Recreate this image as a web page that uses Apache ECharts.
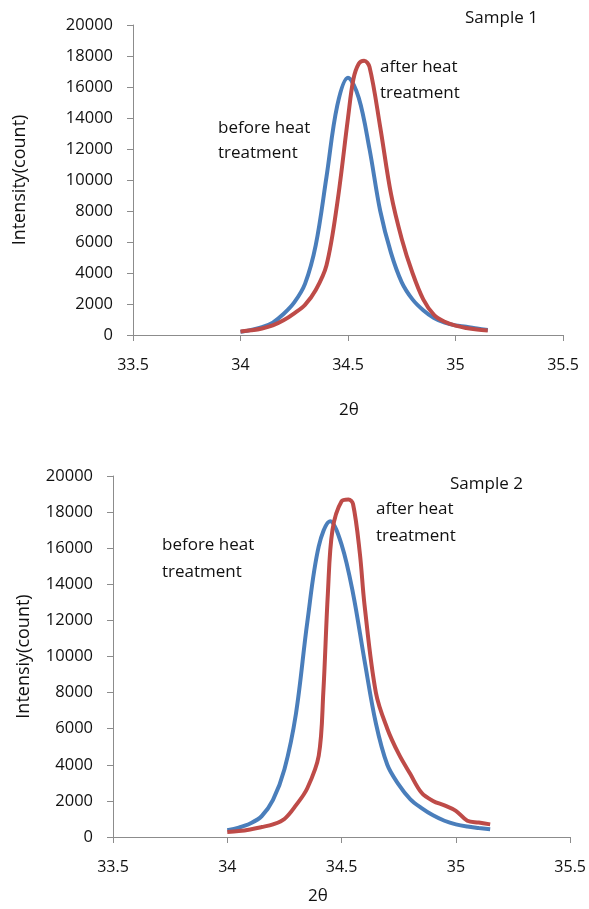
<!DOCTYPE html>
<html>
<head>
<meta charset="utf-8">
<script src="https://cdn.jsdelivr.net/npm/echarts@6/dist/echarts.min.js"></script>
<style>
    html, body { margin: 0; padding: 0; background: #fff; }
    #chart { width: 589px; height: 909px; }
</style>
</head>
<body>
<div id="chart"></div>
<script>
// Sample 1
const s1BeforeX = [34.00, 34.05, 34.10, 34.15, 34.20, 34.25, 34.30, 34.35, 34.40, 34.45, 34.50, 34.55, 34.60, 34.65, 34.70, 34.75, 34.80, 34.85, 34.90, 34.95, 35.00, 35.05, 35.10, 35.15];
const s1Before = [200, 330, 500, 800, 1350, 2100, 3300, 5800, 10200, 14800, 16600, 15300, 12000, 8000, 5300, 3400, 2300, 1600, 1100, 800, 620, 540, 420, 320];
const s1AfterX = [34.00, 34.05, 34.10, 34.15, 34.20, 34.25, 34.30, 34.35, 34.40, 34.45, 34.50, 34.525, 34.55, 34.575, 34.60, 34.65, 34.70, 34.75, 34.80, 34.85, 34.90, 34.95, 35.00, 35.05, 35.10, 35.15];
const s1After = [220, 300, 420, 620, 950, 1400, 1950, 2900, 4500, 8500, 14000, 16500, 17500, 17700, 17300, 13400, 9100, 6200, 4000, 2300, 1300, 850, 600, 450, 350, 290];

// Sample 2
const s2BeforeX = [34.00, 34.05, 34.10, 34.15, 34.20, 34.25, 34.30, 34.35, 34.40, 34.45, 34.50, 34.55, 34.60, 34.65, 34.70, 34.75, 34.80, 34.85, 34.90, 34.95, 35.00, 35.05, 35.10, 35.15];
const s2Before = [370, 520, 750, 1150, 2050, 3750, 6800, 11900, 16100, 17500, 16200, 13500, 9800, 6300, 4000, 2900, 2100, 1600, 1200, 900, 700, 580, 500, 430];
const s2AfterX = [34.00, 34.05, 34.10, 34.15, 34.20, 34.25, 34.30, 34.35, 34.40, 34.42, 34.44, 34.46, 34.50, 34.53, 34.55, 34.58, 34.60, 34.65, 34.70, 34.75, 34.80, 34.85, 34.90, 34.95, 35.00, 35.05, 35.10, 35.15];
const s2After = [280, 330, 420, 550, 700, 1000, 1750, 2700, 4500, 8000, 13500, 17000, 18600, 18700, 18450, 15700, 12900, 8000, 6000, 4600, 3500, 2450, 2000, 1750, 1450, 900, 800, 700];

const xTicks = [33.5, 34, 34.5, 35, 35.5];

const FONT = 'Open Sans';
const TEXT = '#111';
const AXIS = '#8c8c8c';
const BLUE = '#4a7ebb';
const RED = '#be4b48';

function pairs(xs, ys) {
    return xs.map((x, i) => [x, ys[i]]);
}

function xAxisFor(gridIndex) {
    return {
        type: 'value',
        gridIndex: gridIndex,
        min: xTicks[0],
        max: xTicks[xTicks.length - 1],
        interval: 0.5,
        axisLine: { lineStyle: { color: AXIS, width: 1 } },
        axisTick: { show: true, inside: false, length: 6, lineStyle: { color: AXIS } },
        axisLabel: { color: TEXT, fontFamily: FONT, fontSize: 16, margin: 22, formatter: v => String(v) },
        splitLine: { show: false }
    };
}

function yAxisFor(gridIndex, name, gap) {
    return {
        type: 'value',
        gridIndex: gridIndex,
        min: 0,
        max: 20000,
        interval: 2000,
        name: name,
        nameLocation: 'middle',
        nameGap: gap,
        nameRotate: 90,
        nameTextStyle: { color: TEXT, fontFamily: FONT, fontSize: 18 },
        axisLine: { show: true, lineStyle: { color: AXIS, width: 1 } },
        axisTick: { show: true, inside: false, length: 6, lineStyle: { color: AXIS } },
        axisLabel: { color: TEXT, fontFamily: FONT, fontSize: 16.5, margin: 20, formatter: v => String(v) },
        splitLine: { show: false }
    };
}

function lineSeries(name, data, color, idx) {
    return {
        name: name,
        type: 'line',
        xAxisIndex: idx,
        yAxisIndex: idx,
        data: data,
        smooth: 0.35,
        symbol: 'none',
        lineStyle: { color: color, width: 4 },
        z: name.startsWith('after') ? 3 : 2
    };
}

function label(text, x, y) {
    return {
        type: 'text',
        left: x,
        top: y,
        style: { text: text, fill: TEXT, font: '17px "' + FONT + '"' }
    };
}

const chart = echarts.init(document.getElementById('chart'), null, { renderer: 'canvas' });
chart.setOption({
    backgroundColor: '#fff',
    animation: false,
    grid: [
        { left: 133, right: 26, top: 25, height: 310 },
        { left: 113, right: 17, top: 476, height: 361 }
    ],
    xAxis: [xAxisFor(0), xAxisFor(1)],
    yAxis: [
        yAxisFor(0, 'Intensity(count)', 104),
        yAxisFor(1, 'Intensiy(count)', 80)
    ],
    series: [
        lineSeries('before heat treatment', pairs(s1BeforeX, s1Before), BLUE, 0),
        lineSeries('after heat treatment', pairs(s1AfterX, s1After), RED, 0),
        lineSeries('before heat treatment', pairs(s2BeforeX, s2Before), BLUE, 1),
        lineSeries('after heat treatment', pairs(s2AfterX, s2After), RED, 1)
    ],
    graphic: [
        label('Sample 1', 465, 10),
        label('after heat', 380, 59),
        label('treatment', 380, 85),
        label('before heat', 218, 120),
        label('treatment', 218, 145),
        label('2θ', 339, 402),
        label('Sample 2', 450, 476),
        label('after heat', 376, 501),
        label('treatment', 376, 528),
        label('before heat', 162, 537),
        label('treatment', 162, 564),
        label('2θ', 308, 888)
    ]
});
</script>
</body>
</html>
